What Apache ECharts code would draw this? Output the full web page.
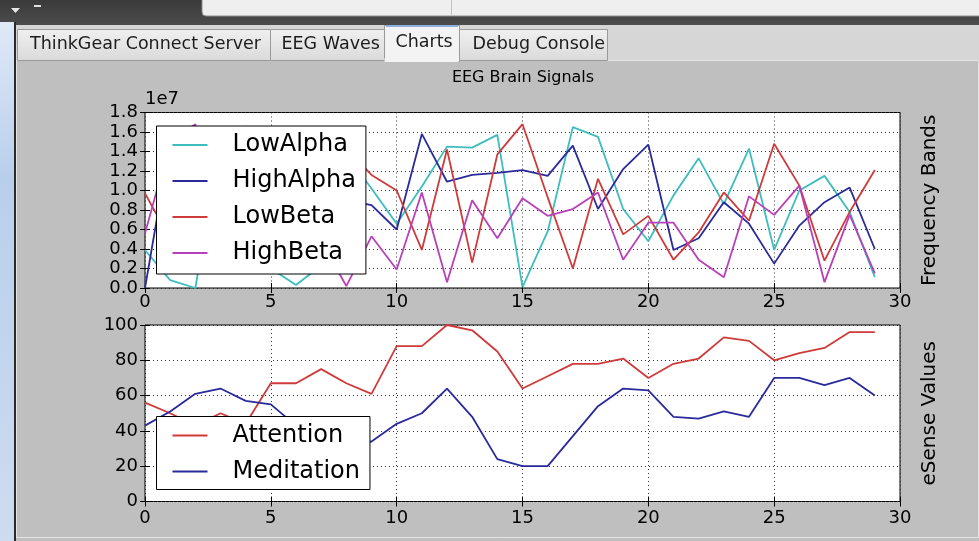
<!DOCTYPE html>
<html><head><meta charset="utf-8">
<script src="https://cdn.jsdelivr.net/npm/echarts@6/dist/echarts.min.js"></script>
<style>html,body{margin:0;padding:0;background:#bfbfbf;}#c{width:979px;height:541px;}</style>
</head><body><div id="c"></div>
<script>
// sample index (x axis)
const samples = [0,1,2,3,4,5,6,7,8,9,10,11,12,13,14,15,16,17,18,19,20,21,22,23,24,25,26,27,28,29];
// Frequency bands, in units of 1e7
const lowAlpha  = [0.39,0.08,0.00,1.50,0.90,0.20,0.03,0.23,1.37,1.02,0.66,1.04,1.45,1.44,1.57,0.01,0.58,1.65,1.55,0.81,0.48,0.95,1.33,0.86,1.43,0.39,1.00,1.15,0.78,0.11];
const highAlpha = [0.00,1.50,1.20,0.90,1.30,0.70,1.00,1.40,0.90,0.85,0.60,1.58,1.09,1.16,1.18,1.21,1.15,1.46,0.81,1.22,1.47,0.39,0.51,0.88,0.66,0.25,0.64,0.88,1.03,0.40];
const lowBeta   = [0.97,0.50,1.10,0.80,1.66,1.20,0.90,1.50,1.43,1.16,1.00,0.39,1.42,0.26,1.37,1.68,0.93,0.20,1.12,0.55,0.74,0.29,0.57,0.98,0.69,1.48,1.05,0.28,0.78,1.21];
const highBeta  = [0.56,1.50,1.68,0.60,0.90,0.40,0.70,0.48,0.02,0.53,0.19,0.98,0.06,0.90,0.51,0.92,0.74,0.81,0.98,0.29,0.67,0.67,0.29,0.11,0.94,0.75,1.05,0.06,0.75,0.15];
// eSense values
const attention  = [56,50,43,50,44,67,67,75,67,61,88,88,100,97,85,64,71,78,78,81,70,78,81,93,91,80,84,87,96,96];
const meditation = [43,51,61,64,57,55,43,38,32,34,44,50,64,48,24,20,20,37,54,64,63,48,47,51,48,70,70,66,70,60];
// tab labels
const tabs = ['ThinkGear Connect Server','EEG Waves','Charts','Debug Console'];

const FONT = '"DejaVu Sans", sans-serif';
const C = {lowAlpha:'#3dbdbd', highAlpha:'#2a2a9c', lowBeta:'#cf3a3a', highBeta:'#b940b9', attention:'#cf3a3a', meditation:'#2a2a9c'};

function pts(arr){ return samples.map((s,i)=>[s, arr[i]]); }

const tickStyle = {show:true, inside:true, length:5, lineStyle:{color:'#000', width:1}};
const splitStyle = {show:true, lineStyle:{color:'#333', width:1, type:[1,3]}};
const lblStyle = {fontSize:18, fontFamily:FONT, color:'#000'};

function xAx(grid, pos, margin){
  return {gridIndex:grid, type:'value', min:0, max:30, interval:5, position:pos,
    axisLine:{show:false}, axisTick:tickStyle,
    axisLabel: pos==='bottom' ? Object.assign({margin:margin, showMinLabel:true, showMaxLabel:true}, lblStyle) : {show:false},
    splitLine: pos==='bottom' ? splitStyle : {show:false}};
}

const option = {
  animation:false,
  backgroundColor:'#bfbfbf',
  title:{text:'EEG Brain Signals', left:523, top:70, textAlign:'center', padding:0,
    textStyle:{fontSize:16, fontWeight:'normal', fontFamily:FONT, color:'#000'}},
  grid:[
    {left:145, top:112.5, width:755, height:175.5, show:true, backgroundColor:'#fff', borderColor:'#000', borderWidth:1, containLabel:false},
    {left:145, top:325, width:755, height:176.5, show:true, backgroundColor:'#fff', borderColor:'#000', borderWidth:1, containLabel:false}
  ],
  xAxis:[ xAx(0,'bottom',5), xAx(0,'top',5), xAx(1,'bottom',8), xAx(1,'top',5) ],
  yAxis:[
    {gridIndex:0, type:'value', min:0, max:1.8, interval:0.2, position:'left',
     name:'1e7', nameLocation:'end', nameGap:4,
     nameTextStyle:Object.assign({align:'left', verticalAlign:'bottom'}, lblStyle),
     axisLine:{show:false}, axisTick:tickStyle,
     axisLabel:Object.assign({margin:7, formatter:v=>v.toFixed(1)}, lblStyle), splitLine:splitStyle},
    {gridIndex:0, type:'value', min:0, max:1.8, interval:0.2, position:'right',
     name:'Frequency Bands', nameLocation:'middle', nameRotate:90, nameGap:20,
     nameTextStyle:{fontSize:20, fontFamily:FONT, color:'#000'},
     axisLine:{show:false}, axisTick:tickStyle, axisLabel:{show:false}, splitLine:{show:false}},
    {gridIndex:1, type:'value', min:0, max:100, interval:20, position:'left',
     axisLine:{show:false}, axisTick:tickStyle,
     axisLabel:Object.assign({margin:7}, lblStyle), splitLine:splitStyle},
    {gridIndex:1, type:'value', min:0, max:100, interval:20, position:'right',
     name:'eSense Values', nameLocation:'middle', nameRotate:90, nameGap:20,
     nameTextStyle:{fontSize:20, fontFamily:FONT, color:'#000'},
     axisLine:{show:false}, axisTick:tickStyle, axisLabel:{show:false}, splitLine:{show:false}}
  ],
  legend:[
    {orient:'vertical', left:156.5, top:126, data:['LowAlpha','HighAlpha','LowBeta','HighBeta'],
     icon:'rect', itemWidth:35, itemHeight:2, itemGap:10, padding:[6,10,8,16],
     backgroundColor:'#fff', borderColor:'#000', borderWidth:1, selectedMode:false,
     textStyle:{fontSize:24, fontFamily:FONT, color:'#000', lineHeight:26, padding:[0,0,0,20]}},
    {orient:'vertical', left:156.5, top:416.5, data:['Attention','Meditation'],
     icon:'rect', itemWidth:35, itemHeight:2, itemGap:10, padding:[6,10,5,16],
     backgroundColor:'#fff', borderColor:'#000', borderWidth:1, selectedMode:false,
     textStyle:{fontSize:24, fontFamily:FONT, color:'#000', lineHeight:26, padding:[0,0,0,20]}}
  ],
  series:[
    {name:'LowAlpha', type:'line', xAxisIndex:0, yAxisIndex:0, data:pts(lowAlpha), color:C.lowAlpha},
    {name:'HighAlpha', type:'line', xAxisIndex:0, yAxisIndex:0, data:pts(highAlpha), color:C.highAlpha},
    {name:'LowBeta', type:'line', xAxisIndex:0, yAxisIndex:0, data:pts(lowBeta), color:C.lowBeta},
    {name:'HighBeta', type:'line', xAxisIndex:0, yAxisIndex:0, data:pts(highBeta), color:C.highBeta},
    {name:'Attention', type:'line', xAxisIndex:2, yAxisIndex:2, data:pts(attention), color:C.attention},
    {name:'Meditation', type:'line', xAxisIndex:2, yAxisIndex:2, data:pts(meditation), color:C.meditation}
  ].map(s=>Object.assign(s,{showSymbol:false, symbol:'none', lineStyle:{width:1.8, color:s.color}, emphasis:{disabled:true}, silent:true})),
  graphic:{elements:[]}
};

// window chrome (decorative UI, not data)
const g = option.graphic.elements;
g.push({type:'rect', shape:{x:0,y:0,width:979,height:25}, style:{fill:new echarts.graphic.LinearGradient(0,0,0,1,[{offset:0,color:'#3a3a3a'},{offset:1,color:'#4c4c4c'}])}});
g.push({type:'rect', shape:{x:202,y:-5,width:800,height:21,r:4}, style:{fill:'#efefef', stroke:'#8c8c8c', lineWidth:1}});
g.push({type:'line', shape:{x1:451.5,y1:0,x2:451.5,y2:15}, style:{stroke:'#c2c2c2', lineWidth:1}});
g.push({type:'polygon', shape:{points:[[11,8],[20,8],[15.5,13]]}, style:{fill:'#e8e8e8'}});
g.push({type:'rect', shape:{x:34,y:5,width:7,height:2}, style:{fill:'#e0e0e0'}});
g.push({type:'rect', shape:{x:15,y:25,width:964,height:35}, style:{fill:'#d6d6d6'}});
g.push({type:'rect', shape:{x:0,y:22,width:14,height:519}, style:{fill:new echarts.graphic.LinearGradient(0,0,0,1,[{offset:0,color:'#dfe9f7'},{offset:0.3,color:'#b8cfec'},{offset:1,color:'#cddcf0'}])}});
g.push({type:'line', shape:{x1:15,y1:22,x2:15,y2:541}, style:{stroke:'#2a2a2a', lineWidth:2}});
const tabX = [17,270,384,459,607];
const tabTextX = [30,281.5,395.5,472.5];
tabs.forEach((t,i)=>{
  const sel = i===2;
  g.push({type:'rect', shape:{x:tabX[i]+0.5, y:sel?25.5:29.5, width:tabX[i+1]-tabX[i], height:sel?36:31},
    style:{fill: sel ? '#f3f3f3' : new echarts.graphic.LinearGradient(0,0,0,1,[{offset:0,color:'#f0f0f0'},{offset:1,color:'#dadada'}]),
      stroke:'#9a9a9a', lineWidth:1}, z:1});
  if(sel) g.push({type:'line', shape:{x1:tabX[i]+2,y1:26,x2:tabX[i+1]-1,y2:26}, style:{stroke:'#8eaede', lineWidth:2}, z:2});
  g.push({type:'text', x:tabTextX[i], y:sel?42:44, style:{text:t, font:'17.5px "DejaVu Sans"', fill:'#1c1c1c', align:'left', verticalAlign:'middle'}, z:3});
});
g.push({type:'rect', shape:{x:16.5,y:60.5,width:962,height:477}, style:{fill:'none', stroke:'#e4e4e4', lineWidth:1}, z:0});
g.push({type:'rect', shape:{x:384.5,y:58,width:74,height:4}, style:{fill:'#f3f3f3'}, z:2});

const chart = echarts.init(document.getElementById('c'));
chart.setOption(option);
</script>
</body></html>
